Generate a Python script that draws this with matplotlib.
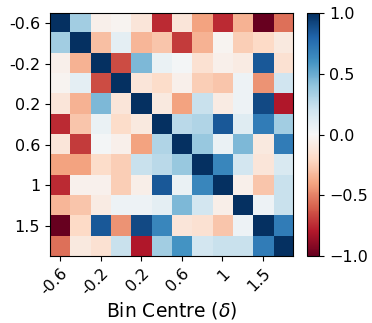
import numpy as np
import matplotlib.pyplot as plt

bin_labels = ["-0.6", "-0.2", "0.2", "0.6", "1", "1.5"]
tick_idx = [0, 2, 4, 6, 8, 10]

corr = np.array([
    [1.00, 0.35, -0.05, -0.03, -0.12, -0.75, -0.12, -0.40, -0.75, -0.35, -1.00, -0.55],
    [0.35, 1.00, -0.30, 0.10, -0.33, -0.28, -0.70, -0.35, -0.03, -0.25, -0.20, -0.10],
    [-0.05, -0.35, 1.00, -0.65, 0.45, 0.07, 0.02, -0.15, -0.05, -0.08, 0.85, -0.15],
    [-0.03, 0.10, -0.65, 1.00, -0.12, -0.18, -0.05, -0.25, -0.28, 0.05, -0.45, 0.20],
    [-0.12, -0.35, 0.45, -0.12, 1.00, -0.10, -0.40, 0.22, -0.08, 0.05, 0.90, -0.80],
    [-0.75, -0.28, 0.07, -0.18, -0.10, 1.00, 0.27, 0.30, 0.85, 0.12, 0.70, 0.35],
    [-0.12, -0.70, 0.02, -0.05, -0.40, 0.30, 1.00, 0.38, 0.07, 0.45, -0.10, 0.70],
    [-0.40, -0.40, -0.18, -0.25, 0.22, 0.27, 0.38, 1.00, 0.65, 0.18, -0.12, 0.15],
    [-0.75, -0.04, -0.04, -0.25, -0.06, 0.85, 0.07, 0.65, 1.00, -0.05, -0.28, 0.22],
    [-0.33, -0.28, -0.08, 0.05, 0.05, 0.10, 0.45, 0.18, -0.06, 1.00, 0.05, 0.22],
    [-1.00, -0.20, 0.85, -0.45, 0.90, 0.65, -0.12, -0.15, -0.28, 0.05, 1.00, 0.70],
    [-0.55, -0.10, -0.15, 0.22, -0.80, 0.35, 0.60, 0.18, 0.22, 0.22, 0.70, 1.00],
])

fig = plt.figure(figsize=(3.72, 3.23), dpi=100)
ax = fig.add_axes([0.134, 0.207, 0.654, 0.753])
im = ax.imshow(corr, cmap="RdBu", vmin=-1, vmax=1, aspect="auto", interpolation="nearest")
ax.set_xticks(tick_idx)
ax.set_xticklabels(bin_labels, rotation=45, ha="right", rotation_mode="anchor", fontsize=11.5)
ax.set_yticks(tick_idx)
ax.set_yticklabels(bin_labels, fontsize=11.5)
ax.set_xlabel(r"Bin Centre ($\delta$)", fontsize=13.5, labelpad=1)

cax = fig.add_axes([0.825, 0.207, 0.033, 0.753])
cb = fig.colorbar(im, cax=cax)
cb.set_ticks([-1, -0.5, 0, 0.5, 1])
cb.ax.tick_params(labelsize=11.5)

fig.savefig("out.png", dpi=100)
